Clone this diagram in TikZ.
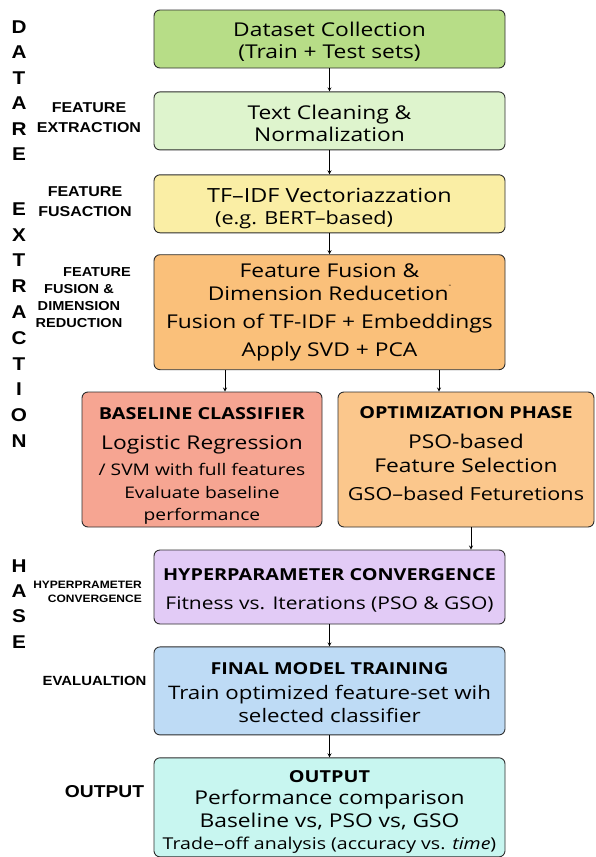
\documentclass[tikz,border=0pt]{standalone}
\usepackage{fontspec}
\setmainfont[FakeStretch=1.2]{Open Sans}
\newfontfamily\sidefont[FakeStretch=1.12]{Liberation Sans}
\usetikzlibrary{arrows.meta,positioning}
\definecolor{datagreen}{RGB}{183,221,135}
\definecolor{cleangreen}{RGB}{222,244,205}
\definecolor{tfyellow}{RGB}{250,238,165}
\definecolor{fusorange}{RGB}{250,192,122}
\definecolor{basered}{RGB}{246,165,146}
\definecolor{optorange}{RGB}{251,199,140}
\definecolor{hyplilac}{RGB}{226,203,246}
\definecolor{finalblue}{RGB}{190,219,245}
\definecolor{outcyan}{RGB}{200,246,240}
\newcommand{\mainsize}{\fontsize{19}{22}\selectfont}
\newcommand{\smallsize}{\fontsize{16}{22}\selectfont}
\newcommand{\headsize}{\fontsize{16.5}{22}\selectfont\bfseries}
\newcommand{\lift}[1]{\rule{0pt}{#1}}
\newcommand{\sink}[1]{\rule[-#1]{0pt}{1pt}}
\tikzset{
    stage/.style={rectangle, draw=gray!35!black, line width=0.9pt, rounded corners=6pt, minimum width=351pt, align=center, inner sep=2pt, font=\mainsize},
    sidelabel/.style={align=center, inner sep=0pt},
    phaseletter/.style={font=\sidefont\bfseries\fontsize{18.5}{18.5}\selectfont, inner sep=0pt},
    arrow/.style={->, >=stealth, thick}
}
\begin{document}
\begin{tikzpicture}[x=1pt, y=-1pt]
\useasboundingbox (0,0) rectangle (596,857);

% Pipeline
\node[stage, fill=datagreen, minimum height=58pt] (data) at (329.5,39) {\lift{20pt}Dataset Collection\\(Train + Test sets)};
\node[stage, fill=cleangreen, minimum height=58pt, below=23pt of data] (clean) {\lift{18.5pt}Text Cleaning \&\\Normalization};
\node[stage, fill=tfyellow, minimum height=58pt, below=24pt of clean, align=left] (tfidf) {{\fontsize{19.5}{22}\selectfont\lift{24pt}TF--IDF Vectoriazzation}\\{\fontsize{18}{22}\selectfont\hspace*{8pt}(e.g. BERT--based)}};
\node[stage, fill=fusorange, minimum height=115pt, below=21pt of tfidf] (fusion) {Feature Fusion \&\\[1pt]Dimension Reducetion\raisebox{1.3ex}{\fontsize{7}{7}\selectfont -}\\[6pt]Fusion of TF-IDF + Embeddings\\[6pt]Apply SVD + PCA};

% Two branches
\node[stage, fill=basered, minimum width=240pt, minimum height=135pt] (base) at (202,459.5) {{\headsize\lift{24pt}BASELINE CLASSIFIER}\\[8pt]Logistic Regression\\[4pt]{\smallsize / SVM with full features}\\[1pt]{\smallsize Evaluate baseline}\\{\smallsize performance}};
\node[stage, fill=optorange, minimum width=256pt, minimum height=135pt] (opt) at (466,459.5) {{\headsize OPTIMIZATION PHASE}\\[8pt]PSO-based\\[2pt]Feature Selection\\[6pt]{\fontsize{18}{22}\selectfont GSO--based Feturetions\sink{11pt}}};

% Lower part
\node[stage, fill=hyplilac, minimum height=74pt] (hyper) at (329.5,587) {{\headsize\lift{18pt}HYPERPARAMETER CONVERGENCE}\\[7pt]{\fontsize{17.5}{22}\selectfont Fitness vs. Iterations (PSO \& GSO)}};
\node[stage, fill=finalblue, minimum height=88pt, below=22pt of hyper] (final) {{\headsize\lift{16pt}FINAL MODEL TRAINING}\\[3pt]{\fontsize{18.6}{22}\selectfont Train optimized feature-set wih}\\[1pt]{\fontsize{18.6}{22}\selectfont selected classifier}};
\node[stage, fill=outcyan, minimum height=99pt, below=22pt of final] (output) {{\headsize\lift{21pt}OUTPUT}\\Performance comparison\\[1pt]Baseline vs, PSO vs, GSO\\{\fontsize{16.3}{22}\selectfont Trade--off analysis (accuracy vs. \textit{time})}};

% Arrows
\draw[arrow] (data) -- (clean);
\draw[arrow] (clean) -- (tfidf);
\draw[arrow] (tfidf) -- (fusion);
\draw[arrow] ([xshift=-104.5pt]fusion.south) -- ([xshift=-104.5pt]fusion.south |- base.north);
\draw[arrow] ([xshift=109.5pt]fusion.south) -- ([xshift=109.5pt]fusion.south |- opt.north);
\draw[arrow] ([xshift=5pt]opt.south) -- ([xshift=5pt]opt.south |- hyper.north);
\draw[arrow] (hyper) -- (final);
\draw[arrow] (final) -- (output);

% Vertical phase title
\foreach \ch [count=\i] in {D,A,T,A,R,E}
    \node[phaseletter] (da\i) at (19,{27+25.5*(\i-1)}) {\ch};
\foreach \ch [count=\i] in {E,X,T,R,A,C,T,I,O,N}
    \node[phaseletter] (ex\i) at (19,{209+25.8*(\i-1)}) {\ch};
\foreach \ch [count=\i] in {H,A,S,E}
    \node[phaseletter] (ha\i) at (19,{566+25.3*(\i-1)}) {\ch};

% Side labels
\node[sidelabel, font=\sidefont\bfseries\fontsize{14.3}{20}\selectfont] (featext) at (89,118) {FEATURE\\EXTRACTION};
\node[sidelabel, font=\sidefont\bfseries\fontsize{14.3}{20}\selectfont] (featfus) at (85,202) {FEATURE\\FUSACTION};
\node[sidelabel, font=\sidefont\bfseries\fontsize{13}{17}\selectfont] (featdim) at (79,298) {\hspace*{36pt}FEATURE\\FUSION \&\\DIMENSION\\REDUCTION};
\node[sidelabel, font=\sidefont\bfseries\fontsize{10.7}{14.5}\selectfont, align=right, anchor=east] (hyplab) at (142,592) {HYPERPRAMETER\\CONVERGENCE};
\node[sidelabel, font=\sidefont\bfseries\fontsize{13.3}{15}\selectfont] (evallab) at (94.5,681) {EVALUALTION};
\node[sidelabel, font=\sidefont\bfseries\fontsize{17.2}{18}\selectfont] (outlab) at (104.5,792) {OUTPUT};

\end{tikzpicture}
\end{document}
